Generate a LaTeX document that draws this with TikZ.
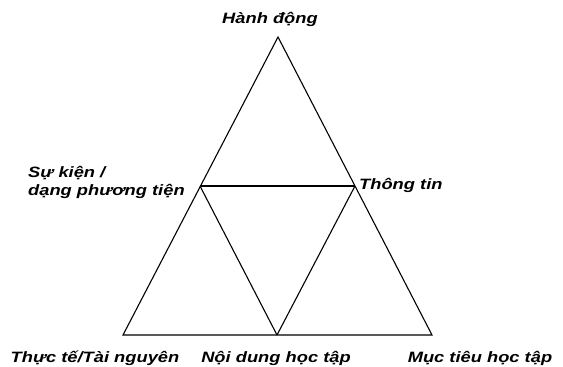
\documentclass[tikz,border=0pt]{standalone}
\usepackage{fontspec}
\setmainfont{Liberation Sans}
\newcommand{\widetext}[1]{\scalebox{1.22}[1]{#1}}
\begin{document}
\begin{tikzpicture}[
  x=1pt, y=-1pt,
  every node/.style={inner sep=0pt, font=\fontsize{15}{18}\selectfont\bfseries\itshape},
  bottomlabel/.style={anchor=base},
  side/.style={line width=1.1pt}
  ]
  \useasboundingbox (0,0) rectangle (563,367);

  % Define corners
  \coordinate (top) at (278,37);
  \coordinate (left) at (123,335);
  \coordinate (right) at (432,335);
  \coordinate (midleft) at (200,186);
  \coordinate (midright) at (355,186);
  \coordinate (midbottom) at (277,335);

  % Outer triangle
  \draw[side] (top) -- (left) -- (right) -- cycle;

  % Inner triangle
  \draw[side] (midleft) -- (midright);
  \draw[side] (midleft) -- (midbottom);
  \draw[side] (midright) -- (midbottom);

  % Labels
  \node[anchor=base] (action) at (270,23) {\widetext{Hành động}};
  \node[anchor=west, align=left] (event) at (28,182) {\widetext{Sự kiện /}\\\widetext{dạng phương tiện}};
  \node[anchor=base west] (info) at (359,189) {\widetext{Thông tin}};
  \node[bottomlabel] (resource) at (95,362) {\widetext{Thực tế/Tài nguyên}};
  \node[bottomlabel] (content) at (276,362) {\widetext{Nội dung học tập}};
  \node[bottomlabel] (goal) at (480,362) {\widetext{Mục tiêu học tập}};

\end{tikzpicture}
\end{document}
